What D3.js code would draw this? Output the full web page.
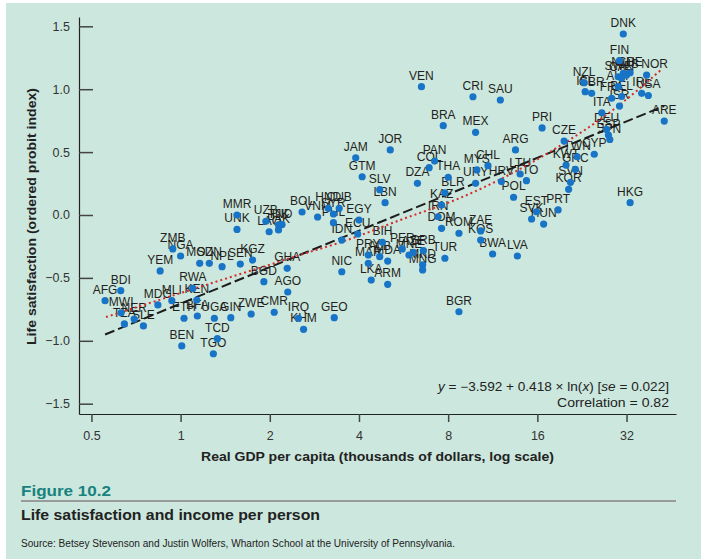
<!DOCTYPE html>
<html>
<head>
<meta charset="utf-8">
<script src="https://cdn.jsdelivr.net/npm/d3@7"></script>
<style>
  html, body { margin: 0; padding: 0; background: #ffffff; }
  svg { display: block; }
</style>
</head>
<body>
<svg id="chart" width="701" height="559"></svg>
<script>
// Country codes, real GDP per capita (thousands of dollars) and life satisfaction index
const countries = ["DNK","FIN","CHE","NLD","SWE","AUS","CAN","NOR","NZL","ISL","GBR","AUT","IRL","USA","BEL","FRA","ISR","ITA","ARE","DEU","ESP","JPN","CYP","TWN","KWT","GRC","SVN","KOR","CZE","PRI","HKG","PRT","EST","SVK","HUN","ARG","LTU","TTO","HRV","POL","CHL","MYS","URY","MEX","CRI","SAU","BRA","VEN","PAN","COL","THA","DZA","BLR","KAZ","IRN","DOM","ROM","ZAE","KOS","BWA","LVA","TUR","BGR","JOR","JAM","GTM","SLV","LBN","EGY","ECU","IDN","BIH","PER","AZE","MNE","SRB","MKD","MNG","PRY","MAR","ALB","MDA","NIC","LKA","ARM","GEO","KHM","IRQ","AGO","GHA","BGD","CMR","ZWE","BOL","VNM","HND","CUB","SYR","PHL","MMR","UNK","UZB","LAO","TJK","IND","PAK","KGZ","SEN","NPL","SDN","MOZ","ZMB","NGA","YEM","RWA","KEN","BDI","AFG","MDG","MLI","MWI","TZA","NER","SLE","ETH","BFA","UGA","GIN","BEN","TCD","TGO"];

const gdp = [31.2,30.3,32.9,31.2,30.0,32.0,30.8,37.4,23.0,23.2,24.4,30.0,36.0,37.9,30.8,28.5,30.3,26.4,42.9,27.4,27.8,28.1,24.9,21.8,20.0,21.5,20.7,20.4,19.7,16.6,32.9,18.8,15.9,15.3,16.8,13.5,14.0,14.7,12.1,13.3,10.9,10.0,9.9,9.9,9.7,12.0,7.7,6.5,7.2,6.9,8.0,6.3,7.8,7.6,7.4,7.6,8.7,10.3,10.3,11.3,13.7,7.8,8.7,5.1,3.9,4.1,4.7,4.9,4.0,3.96,3.5,4.8,5.6,6.1,5.9,6.6,6.56,6.56,4.3,4.3,4.7,5.0,3.5,4.4,5.0,3.3,2.6,2.5,2.3,2.29,1.91,2.07,1.73,2.57,2.9,3.15,3.43,3.28,3.28,1.55,1.55,1.94,1.99,2.14,2.2,2.14,1.75,1.59,1.38,1.25,1.16,0.941,1.0,0.853,1.10,1.134,0.628,0.556,0.838,0.934,0.630,0.646,0.697,0.749,1.027,1.139,1.300,1.477,1.009,1.331,1.290];

const satisfaction = [1.439,1.227,1.131,1.126,1.099,1.113,1.087,1.113,1.052,0.980,0.967,1.020,0.967,0.950,0.942,0.928,0.866,0.813,0.747,0.680,0.636,0.600,0.483,0.463,0.397,0.363,0.260,0.204,0.588,0.692,0.098,0.040,0.026,-0.032,-0.072,0.517,0.326,0.273,0.266,0.141,0.392,0.358,0.252,0.657,0.940,0.914,0.710,1.020,0.429,0.376,0.300,0.252,0.177,0.079,-0.014,-0.106,-0.145,-0.127,-0.199,-0.310,-0.326,-0.344,-0.769,0.517,0.455,0.304,0.201,0.098,-0.040,-0.151,-0.199,-0.217,-0.270,-0.297,-0.318,-0.284,-0.397,-0.437,-0.318,-0.384,-0.331,-0.366,-0.451,-0.517,-0.551,-0.816,-0.909,-0.821,-0.612,-0.424,-0.530,-0.773,-0.787,0.024,-0.016,0.053,0.053,0.008,-0.061,0.000,-0.115,-0.050,-0.133,-0.079,-0.076,-0.119,-0.358,-0.390,-0.411,-0.384,-0.384,-0.270,-0.326,-0.445,-0.583,-0.676,-0.602,-0.681,-0.715,-0.681,-0.777,-0.866,-0.827,-0.882,-0.821,-0.803,-0.821,-0.816,-1.041,-0.983,-1.103];

// Smoothed (nonparametric) fit, dotted red
const fitGdp = [0.56, 1.16, 2.53, 3.65, 5.51, 8.77, 18.1, 28.8, 41.8];
const fitSatisfaction = [-0.811, -0.572, -0.318, -0.199, -0.040, 0.135, 0.517, 0.835, 1.153];

// Log-linear regression stated on the chart: y = a + b * ln(GDP in dollars)
const regIntercept = -3.592;
const regSlope = 0.418;
const regSe = 0.022;
const correlation = 0.82;

const xTicks = [0.5, 1, 2, 4, 8, 16, 32];
const yTicks = [-1.5, -1.0, -0.5, 0.0, 0.5, 1.0, 1.5];

// A few labels sit slightly off their dots
const labelShift = { NOR: [8, 0], BLR: [8, 0] };

const FONT = "'Liberation Sans', Arial, Helvetica, sans-serif";
const svg = d3.select("#chart");

svg.append("rect")
  .attr("x", 6).attr("y", 3).attr("width", 695).attr("height", 556)
  .attr("fill", "#cce7dd");

const x = d3.scaleLog().base(2).domain([0.454, 47.0]).range([79, 676]);
const y = d3.scaleLinear().domain([-1.582, 1.574]).range([414, 17]);

// Y axis (ticks pointing into the plot)
const yAxis = svg.append("g")
  .attr("transform", "translate(79,0)")
  .call(d3.axisLeft(y).tickValues(yTicks).tickFormat(d3.format(".1f"))
    .tickSizeInner(-14).tickSizeOuter(0).tickPadding(9));
yAxis.attr("font-family", FONT).attr("font-size", 12.5);
yAxis.select(".domain").attr("stroke", "#222").attr("stroke-width", 1.2);
yAxis.selectAll(".tick line").attr("stroke", "#444").attr("stroke-width", 1.5);
yAxis.selectAll(".tick text").attr("fill", "#333");

// X axis (log scale)
const xAxis = svg.append("g")
  .attr("transform", "translate(0,414)")
  .call(d3.axisBottom(x).tickValues(xTicks).tickFormat(d => String(d))
    .tickSizeInner(8).tickSizeOuter(0).tickPadding(9));
xAxis.attr("font-family", FONT).attr("font-size", 12.5);
xAxis.select(".domain").attr("stroke", "#222").attr("stroke-width", 1.2);
xAxis.selectAll(".tick line").attr("stroke", "#444").attr("stroke-width", 1.5);
xAxis.selectAll(".tick text").attr("fill", "#333");

// Axis titles
svg.append("text")
  .attr("x", 377.5).attr("y", 461)
  .attr("text-anchor", "middle")
  .attr("font-family", FONT).attr("font-weight", "bold").attr("font-size", 12.5)
  .attr("fill", "#222")
  .attr("textLength", 353).attr("lengthAdjust", "spacingAndGlyphs")
  .text("Real GDP per capita (thousands of dollars, log scale)");

svg.append("text")
  .attr("transform", "translate(36,216.5) rotate(-90)")
  .attr("text-anchor", "middle")
  .attr("font-family", FONT).attr("font-weight", "bold").attr("font-size", 12.5)
  .attr("fill", "#222")
  .attr("textLength", 257).attr("lengthAdjust", "spacingAndGlyphs")
  .text("Life satisfaction (ordered probit index)");

const points = countries.map((c, i) => ({ code: c, gdp: gdp[i], val: satisfaction[i] }));

// Country labels
svg.append("g")
  .selectAll("text")
  .data(points)
  .join("text")
  .attr("x", d => x(d.gdp) + (labelShift[d.code] ? labelShift[d.code][0] : 0))
  .attr("y", d => y(d.val) - 7 + (labelShift[d.code] ? labelShift[d.code][1] : 0))
  .attr("text-anchor", "middle")
  .attr("font-family", FONT).attr("font-size", 12)
  .attr("fill", "#231f20")
  .text(d => d.code);

// Regression line
const ext = d3.extent(gdp);
const regLine = ext.map(g => [g, regIntercept + regSlope * Math.log(g * 1000)]);
svg.append("path")
  .datum(regLine)
  .attr("fill", "none")
  .attr("stroke", "#1c1c1c").attr("stroke-width", 2)
  .attr("stroke-dasharray", "10,4")
  .attr("d", d3.line().x(d => x(d[0])).y(d => y(d[1])));

// Smoothed fit
svg.append("path")
  .datum(fitGdp.map((g, i) => [g, fitSatisfaction[i]]))
  .attr("fill", "none")
  .attr("stroke", "#d42a2a").attr("stroke-width", 2)
  .attr("stroke-dasharray", "2,3")
  .attr("d", d3.line().curve(d3.curveMonotoneX).x(d => x(d[0])).y(d => y(d[1])));

// Country dots
svg.append("g")
  .selectAll("circle")
  .data(points)
  .join("circle")
  .attr("cx", d => x(d.gdp))
  .attr("cy", d => y(d.val))
  .attr("r", 3.6)
  .attr("fill", "#1874c6");

// Regression annotation
const eq = svg.append("text")
  .attr("x", 669).attr("y", 391)
  .attr("text-anchor", "end")
  .attr("font-family", FONT).attr("font-size", 12)
  .attr("fill", "#222")
  .attr("textLength", 231).attr("lengthAdjust", "spacingAndGlyphs");
eq.append("tspan").attr("font-style", "italic").text("y");
eq.append("tspan").text(" = \u2212" + Math.abs(regIntercept).toFixed(3) + " + " + regSlope.toFixed(3) + " \u00d7 ln(");
eq.append("tspan").attr("font-style", "italic").text("x");
eq.append("tspan").text(") [");
eq.append("tspan").attr("font-style", "italic").text("se");
eq.append("tspan").text(" = " + regSe.toFixed(3) + "]");

svg.append("text")
  .attr("x", 669).attr("y", 407)
  .attr("text-anchor", "end")
  .attr("font-family", FONT).attr("font-size", 12)
  .attr("fill", "#222")
  .attr("textLength", 112).attr("lengthAdjust", "spacingAndGlyphs")
  .text("Correlation = " + correlation.toFixed(2));

// Figure caption block
svg.append("text")
  .attr("x", 21).attr("y", 496)
  .attr("font-family", FONT).attr("font-weight", "bold").attr("font-size", 15)
  .attr("fill", "#17827f")
  .attr("textLength", 90).attr("lengthAdjust", "spacingAndGlyphs")
  .text("Figure 10.2");

svg.append("line")
  .attr("x1", 21).attr("x2", 676).attr("y1", 501).attr("y2", 501)
  .attr("stroke", "#9a9a9a").attr("stroke-width", 2);

svg.append("text")
  .attr("x", 21).attr("y", 519.5)
  .attr("font-family", FONT).attr("font-weight", "bold").attr("font-size", 15)
  .attr("fill", "#222")
  .attr("textLength", 299).attr("lengthAdjust", "spacingAndGlyphs")
  .text("Life satisfaction and income per person");

svg.append("text")
  .attr("x", 21).attr("y", 546.5)
  .attr("font-family", FONT).attr("font-size", 10)
  .attr("fill", "#222")
  .attr("textLength", 434).attr("lengthAdjust", "spacingAndGlyphs")
  .text("Source: Betsey Stevenson and Justin Wolfers, Wharton School at the University of Pennsylvania.");
</script>
</body>
</html>
